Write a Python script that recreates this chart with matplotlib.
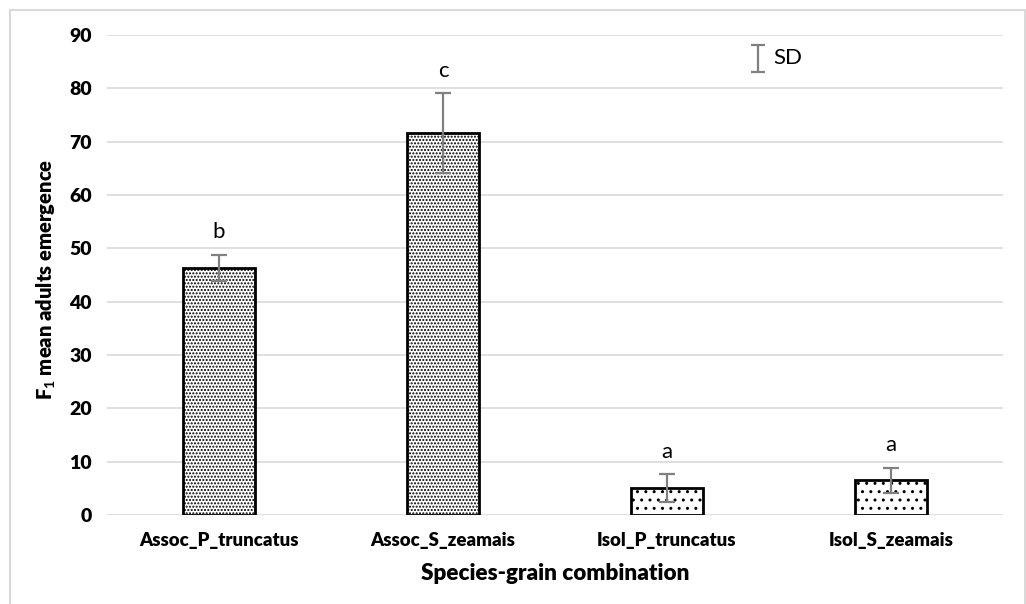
import matplotlib
matplotlib.use('Agg')
import matplotlib.pyplot as plt
from matplotlib.patches import Rectangle
import numpy as np

plt.rcParams['font.family'] = ['Lato', 'DejaVu Sans']
plt.rcParams['hatch.linewidth'] = 1.0
plt.rcParams['mathtext.fontset'] = 'custom'
plt.rcParams['mathtext.bf'] = 'Lato:bold'

# Data
categories = ['Assoc_P_truncatus', 'Assoc_S_zeamais', 'Isol_P_truncatus', 'Isol_S_zeamais']
means = [46.3, 71.6, 5.1, 6.5]
sds = [2.5, 7.5, 2.6, 2.4]
letters = ['b', 'c', 'a', 'a']
hatches = ['.....', '.....', '..', '..']
yticks = [0, 10, 20, 30, 40, 50, 60, 70, 80, 90]

fig = plt.figure(figsize=(10.26, 6.04), dpi=100)
ax = fig.add_axes([107 / 1026, 1 - 515 / 604, 896 / 1026, 480 / 604])

x = np.arange(len(categories))
bars = ax.bar(x, means, width=0.317, color='white', edgecolor='black',
              linewidth=2, zorder=3)
for b, h in zip(bars, hatches):
    b.set_hatch(h)

ax.errorbar(x, means, yerr=sds, fmt='none', ecolor='#808080',
            elinewidth=1.6, capsize=6, capthick=1.6, zorder=4)

# significance letters
for xi, m, s, l in zip(x, means, sds, letters):
    ax.text(xi, m + s + 2.3, l, ha='center', va='bottom', fontsize=16)

# SD key
ax.errorbar([2.406], [85.6], yerr=[2.6], fmt='none', ecolor='#808080',
            elinewidth=1.6, capsize=5, capthick=1.6)
ax.text(2.475, 85.6, 'SD', ha='left', va='center', fontsize=16)

ax.set_xlim(-0.5, len(categories) - 0.5)
ax.set_ylim(0, 90)
ax.set_yticks(yticks)
ax.set_yticklabels([str(t) for t in yticks], fontsize=14, fontweight='heavy')
ax.set_xticks(x)
ax.set_xticklabels(categories, fontsize=13.4, fontweight='heavy')
ax.tick_params(length=0, pad=11, axis='y')
ax.tick_params(length=0, pad=12, axis='x')
ax.yaxis.grid(True, color='#d9d9d9', linewidth=1.2, zorder=0)
for sp in ax.spines.values():
    sp.set_visible(False)

ax.set_ylabel('F$_\\mathbf{1}$ mean adults emergence', fontsize=14.5,
              fontweight='heavy')
ax.yaxis.set_label_coords(-0.055, 0.49)
ax.set_xlabel('Species-grain combination', fontsize=16.2, fontweight='heavy',
              labelpad=10)

# light frame around the chart
fig.patches.append(Rectangle((10 / 1026, -0.01), 1015 / 1026, 1 - 10 / 604 + 0.01,
                             transform=fig.transFigure, fill=False,
                             edgecolor='#d9d9d9', linewidth=1.5))

fig.savefig('out.png', dpi=100)
